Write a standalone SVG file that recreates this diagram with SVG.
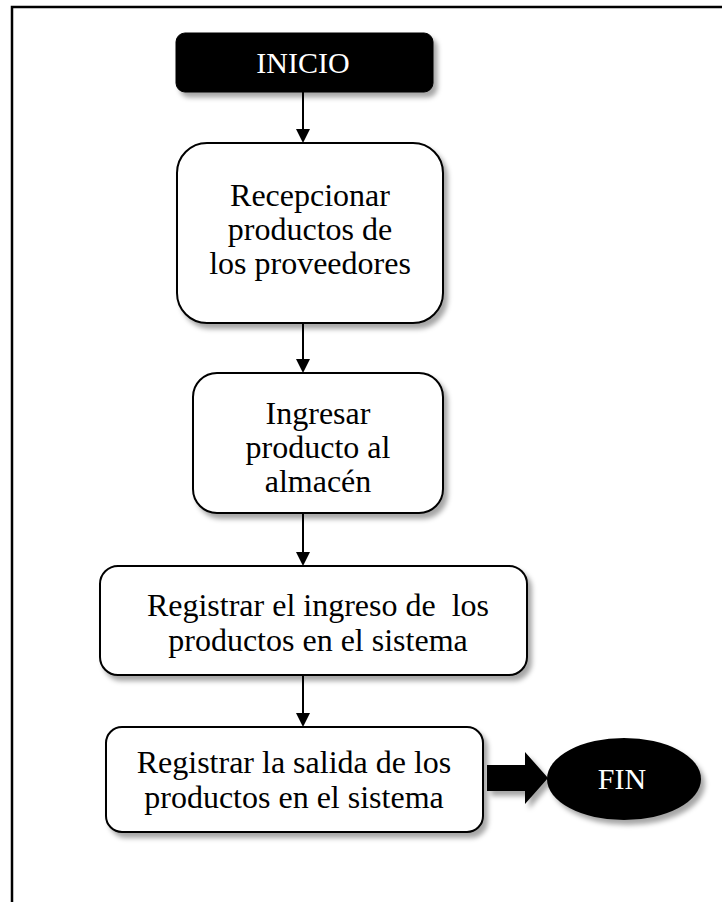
<svg xmlns="http://www.w3.org/2000/svg" width="722" height="902" viewBox="0 0 722 902">
<style>
.box{fill:#fff;stroke:#000;stroke-width:2;}
.dark{fill:#000;stroke:#000;stroke-width:1;}
.t{font-family:"Liberation Serif","Times New Roman",serif;font-size:32px;fill:#000;text-anchor:middle;}
.w{fill:#fff;font-size:30px;}
.c{stroke:#000;stroke-width:2;fill:none;}
</style>
<defs>
<filter id="sh" x="-10%" y="-10%" width="130%" height="130%">
<feDropShadow dx="4" dy="5" stdDeviation="2.5" flood-color="#000" flood-opacity="0.35"/>
</filter>
</defs>
<rect width="722" height="902" fill="#fff"/>
<g id="frame">
<path d="M12,902 L12,7 L722,7" fill="none" stroke="#000" stroke-width="2.5"/>
</g>
<g id="connectors">
<path class="c" d="M303,92 L303,129"/>
<path d="M296,129 L310,129 L303,143 Z" fill="#000"/>
<path class="c" d="M303,323 L303,359"/>
<path d="M296,359 L310,359 L303,373 Z" fill="#000"/>
<path class="c" d="M303,513 L303,552"/>
<path d="M296,552 L310,552 L303,566 Z" fill="#000"/>
<path class="c" d="M303,675 L303,713"/>
<path d="M296,713 L310,713 L303,727 Z" fill="#000"/>
<path id="blockarrow" d="M487,765 L525,765 L525,752 L548,778 L525,804 L525,791 L487,791 Z" fill="#000" filter="url(#sh)"/>
</g>
<g id="inicio">
<rect class="dark" x="176" y="33" width="257" height="59" rx="9" filter="url(#sh)"/>
<text class="t w" x="303" y="73">INICIO</text>
</g>
<g id="recepcionar">
<rect class="box" x="177" y="143" width="266" height="180" rx="30" filter="url(#sh)"/>
<text class="t" x="310" y="206">Recepcionar</text>
<text class="t" x="310" y="240">productos de</text>
<text class="t" x="310" y="274">los proveedores</text>
</g>
<g id="ingresar">
<rect class="box" x="193" y="373" width="250" height="140" rx="24" filter="url(#sh)"/>
<text class="t" x="318" y="424">Ingresar</text>
<text class="t" x="318" y="458">producto al</text>
<text class="t" x="318" y="492">almacén</text>
</g>
<g id="registrar-ingreso">
<rect class="box" x="100" y="566" width="427" height="109" rx="18" filter="url(#sh)"/>
<text class="t" x="318" y="616" xml:space="preserve">Registrar el ingreso de  los</text>
<text class="t" x="318" y="651">productos en el sistema</text>
</g>
<g id="registrar-salida">
<rect class="box" x="106" y="727" width="377" height="105" rx="16" filter="url(#sh)"/>
<text class="t" x="294" y="773">Registrar la salida de los</text>
<text class="t" x="294" y="808">productos en el sistema</text>
</g>
<g id="fin">
<ellipse cx="624" cy="779" rx="77" ry="41" fill="#000" filter="url(#sh)"/>
<text class="t w" x="622" y="789">FIN</text>
</g>
</svg>
